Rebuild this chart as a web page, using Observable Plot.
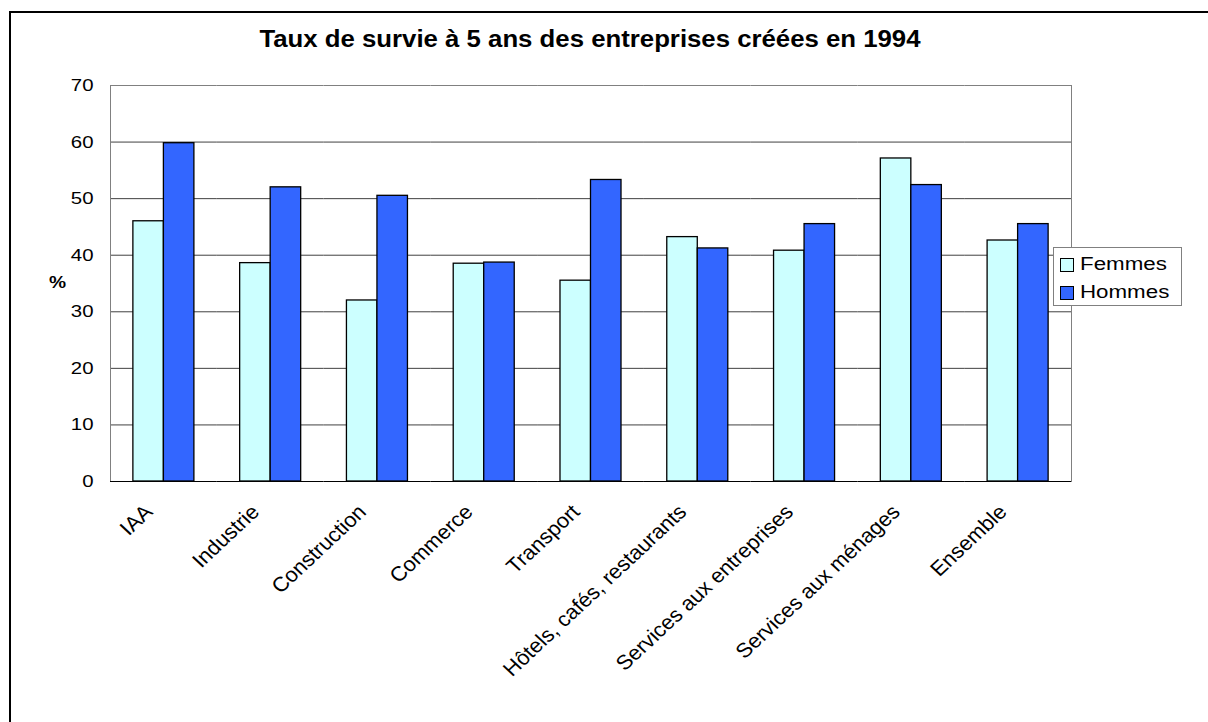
<!DOCTYPE html>
<html><head><meta charset="utf-8">
<script src="https://cdn.jsdelivr.net/npm/d3@7"></script>
<script src="https://cdn.jsdelivr.net/npm/@observablehq/plot@0.6"></script>
<style>
body{margin:0;background:#fff;font-family:"Liberation Sans",Arial,sans-serif;}
#wrap{position:relative;width:1208px;height:722px;overflow:hidden;}
#border{position:absolute;left:9px;top:11px;width:1300px;height:800px;border-left:2px solid #000;border-top:2px solid #000;}
#chart{position:absolute;left:0;top:0;}
#title{position:absolute;left:0;width:1180px;top:28px;text-align:center;font-weight:bold;font-size:23px;line-height:23px;color:#000;transform:scaleX(1.12);transform-origin:590px 0;}
#ylab{position:absolute;left:49px;top:275px;font-weight:bold;font-size:16px;line-height:16px;transform:scaleX(1.2);transform-origin:0 0;}
#legend{position:absolute;left:1053px;top:247px;width:127px;height:57px;border:1px solid #808080;background:#fff;}
.item{position:absolute;left:6px;font-size:18px;line-height:18px;}
.sw{position:absolute;left:0;top:1px;width:12px;height:12px;border:1px solid #000;}
.lt{position:absolute;left:20px;top:-2px;white-space:nowrap;transform:scaleX(1.24);transform-origin:0 0;}
</style></head>
<body>
<div id="wrap">
  <div id="chart"></div>
  <div id="border"></div>
  <div id="title">Taux de survie à 5 ans des entreprises créées en 1994</div>
  <div id="ylab">%</div>
  <div id="legend"></div>
</div>
<script>
const categories = ["IAA","Industrie","Construction","Commerce","Transport","Hôtels, cafés, restaurants","Services aux entreprises","Services aux ménages","Ensemble"];
const femmes = [46.0,38.6,32.0,38.5,35.5,43.2,40.8,57.1,42.6];
const hommes = [59.8,52.0,50.5,38.7,53.3,41.2,45.5,52.4,45.5];
const series = ["Femmes","Hommes"];
const colors = ["#CCFFFF","#3366FF"];
const yTicks = [0,10,20,30,40,50,60,70];

const data = categories.flatMap((c,i)=>[
  {cat:c, sex:series[0], v:femmes[i]},
  {cat:c, sex:series[1], v:hommes[i]}
]);

const chart = Plot.plot({
  width:1208, height:722,
  marginLeft:110, marginRight:137, marginTop:85, marginBottom:241,
  style:{fontFamily:"'Liberation Sans', Arial, sans-serif", fontSize:"20px", color:"#000", background:"transparent", overflow:"visible"},
  fx:{domain:categories, padding:0, round:false, label:null},
  x:{domain:series, paddingInner:0, paddingOuter:0.75, round:false, axis:null},
  y:{domain:[0,70], label:null},
  color:{domain:series, range:colors},
  marks:[
    Plot.ruleY(yTicks.slice(1,-1), {stroke:"#404040", strokeWidth:1}),
    Plot.ruleY([70], {stroke:"#808080"}),
    Plot.frame({anchor:"left", facetAnchor:"left", stroke:"#808080"}),
    Plot.frame({anchor:"right", facetAnchor:"right", stroke:"#808080"}),
    Plot.barY(data, {fx:"cat", x:"sex", y:"v", fill:"sex", stroke:"#000", strokeWidth:1.3, inset:0}),
    Plot.ruleY([0], {stroke:"#000"}),
    Plot.axisY({ticks:yTicks, tickSize:0, tickPadding:17, fontSize:17, label:null}),
    Plot.axisFx({anchor:"bottom", tickRotate:-45, tickSize:0, tickPadding:27, dx:-15, fontSize:20.5, label:null})
  ]
});
document.getElementById("chart").appendChild(chart);

// horizontal stretch of tick labels, as in the reference picture
function stretch(textSel, s){
  textSel.each(function(){
    const xa = this.getAttribute("x");
    let local = "";
    if (xa !== null && !isNaN(+xa)){
      local = ` translate(${+xa},0)`;
      this.removeAttribute("x");
    }
    const t = this.getAttribute("transform") || "";
    let nt;
    if (/rotate\(/.test(t)) nt = t.replace(/rotate\(/, `scale(${s},1) rotate(`) + local;
    else nt = t + local + ` scale(${s},1)`;
    this.setAttribute("transform", nt.trim());
  });
}
stretch(d3.select(chart).selectAll("g[aria-label='y-axis tick label'] text"), 1.2);
stretch(d3.select(chart).selectAll("g[aria-label='fx-axis tick label'] text"), 1.07);

const legend = document.getElementById("legend");
series.forEach((s,i)=>{
  const it = document.createElement("div");
  it.className="item";
  it.style.top = (9 + i*28) + "px";
  it.innerHTML = `<div class="sw" style="background:${colors[i]}"></div><div class="lt">${s}</div>`;
  legend.appendChild(it);
});
</script>
</body></html>
